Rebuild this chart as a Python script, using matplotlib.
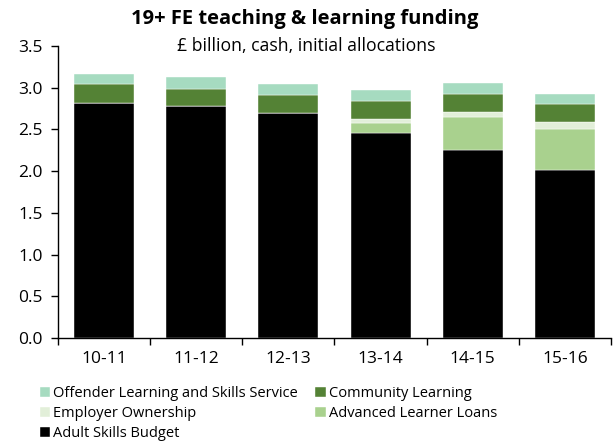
import matplotlib
matplotlib.use("Agg")
import matplotlib.pyplot as plt
import numpy as np

plt.rcParams["font.family"] = ["Open Sans", "DejaVu Sans"]

years = ["10-11", "11-12", "12-13", "13-14", "14-15", "15-16"]
adult_skills = [2.82, 2.78, 2.70, 2.46, 2.25, 2.01]
adv_loans = [0.0, 0.0, 0.0, 0.12, 0.40, 0.49]
employer_own = [0.0, 0.0, 0.0, 0.05, 0.06, 0.09]
community = [0.22, 0.21, 0.21, 0.21, 0.22, 0.21]
offender = [0.13, 0.14, 0.14, 0.13, 0.13, 0.13]

series = [
    ("Adult Skills Budget", adult_skills, "#000000"),
    ("Advanced Learner Loans", adv_loans, "#a9d18e"),
    ("Employer Ownership", employer_own, "#e2efd9"),
    ("Community Learning", community, "#548235"),
    ("Offender Learning and Skills Service", offender, "#a6dbc0"),
]

fig = plt.figure(figsize=(6.16, 4.45), dpi=100)
ax = fig.add_axes([0.094, 0.2404, 0.898, 0.6562])

x = np.arange(len(years))
bottom = np.zeros(len(years))
handles = {}
for name, vals, color in series:
    b = ax.bar(x, vals, 0.65, bottom=bottom, color=color, edgecolor="white",
               linewidth=0.3, label=name)
    handles[name] = b
    bottom += np.array(vals)

ax.set_xlim(-0.5, len(years) - 0.5)
ax.set_ylim(0, 3.5)
yt = np.arange(0, 3.51, 0.5)
ax.set_yticks(yt)
ax.set_yticklabels([f"{v:.1f}" for v in yt], fontsize=12.5)
ax.set_xticks(x)
ax.set_xticklabels(years, fontsize=12.5)
ax.tick_params(axis="x", length=0, pad=9)
ax.set_xticks(np.arange(-0.5, len(years)), minor=True)
ax.tick_params(axis="x", which="minor", length=5, width=1, direction="out")
ax.tick_params(axis="y", length=5, width=1, direction="out", pad=6)
for s in ["top", "right"]:
    ax.spines[s].set_visible(False)
ax.spines["left"].set_linewidth(1)
ax.spines["bottom"].set_linewidth(1)

fig.text(0.495, 0.957, "19+ FE teaching & learning funding", ha="center",
         va="center", fontsize=14.5, fontweight="bold")
fig.text(0.497, 0.897, "£ billion, cash, initial allocations", ha="center",
         va="center", fontsize=12.7)

order = ["Offender Learning and Skills Service", "Employer Ownership",
         "Adult Skills Budget", "Community Learning", "Advanced Learner Loans"]
fig.legend([handles[n] for n in order], order, loc="upper left",
           bbox_to_anchor=(0.065, 0.132), ncol=2, frameon=False, fontsize=10.5,
           handlelength=0.7, handleheight=0.7, handletextpad=0.2,
           columnspacing=1.2, labelspacing=0.35, borderaxespad=0, borderpad=0)

fig.savefig("out.png", dpi=100)
